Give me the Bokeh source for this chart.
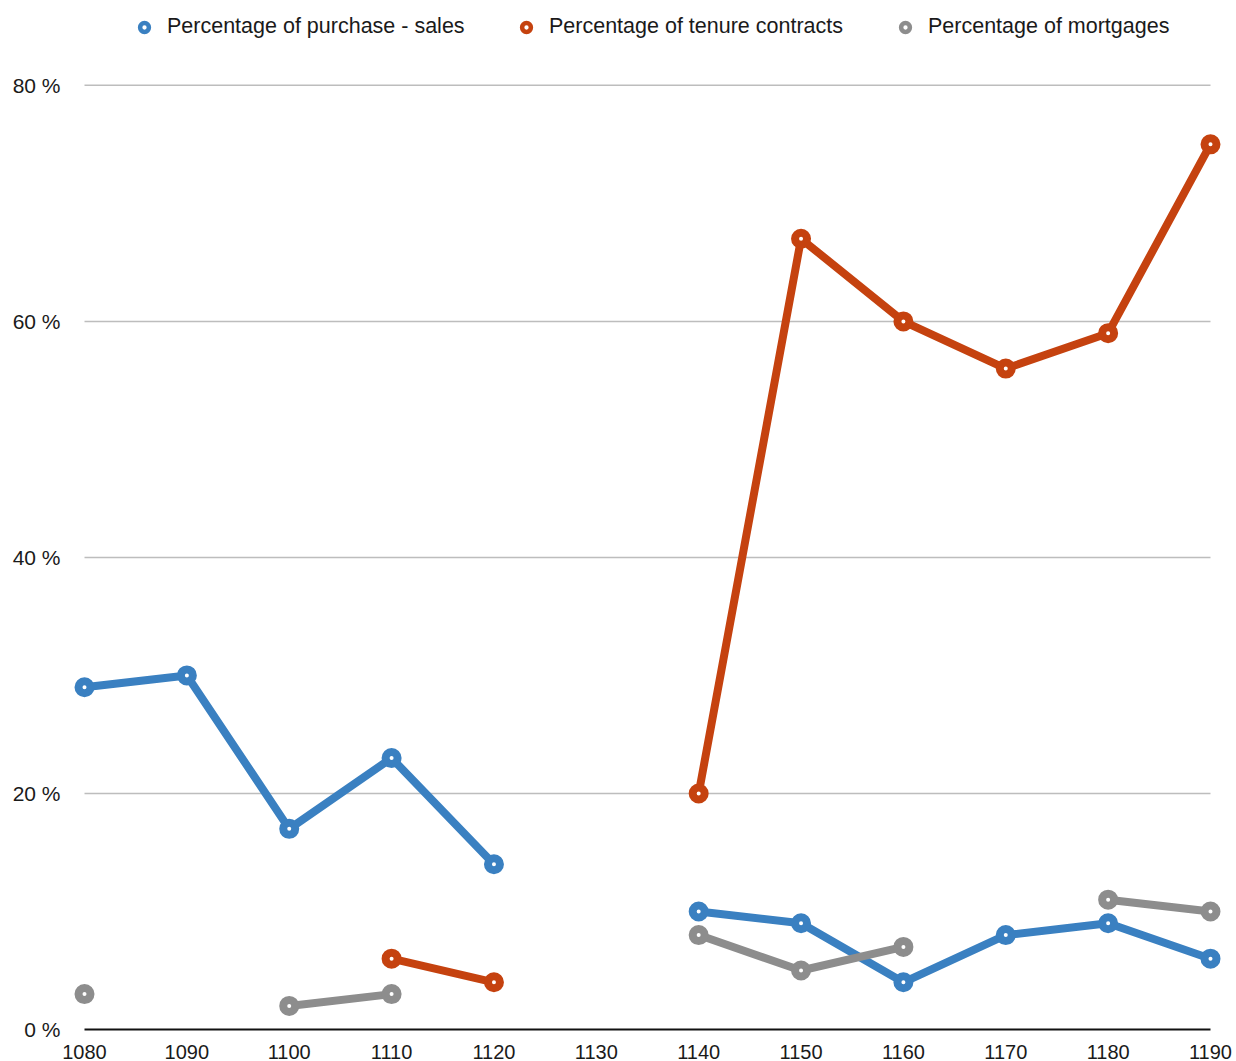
import math
from bokeh.plotting import figure
from bokeh.models import Range1d, FixedTicker, Legend, LegendItem, ColumnDataSource
from bokeh.embed import file_html
from bokeh.resources import INLINE

nan = float("nan")

years = [1080, 1090, 1100, 1110, 1120, 1130, 1140, 1150, 1160, 1170, 1180, 1190]
purchase_sales = [29, 30, 17, 23, 14, nan, 10, 9, 4, 8, 9, 6]
tenure_contracts = [nan, nan, nan, 6, 4, nan, 20, 67, 60, 56, 59, 75]
mortgages = [3, nan, 2, 3, nan, nan, 8, 5, 7, nan, 11, 10]

series_names = ["Percentage of purchase - sales", "Percentage of tenure contracts", "Percentage of mortgages"]
series_colors = ["#3a80c1", "#c5420f", "#8d8d8d"]

y_ticks = [0, 20, 40, 60, 80]
y_tick_labels = ["0 %", "20 %", "40 %", "60 %", "80 %"]
x_ticks = years

W, H = 1236, 1061
frame_left, frame_right, frame_top, frame_bottom = 69, 1225, 0, 1035
x_first_px, x_last_px = 84, 1210
y0_px, y80_px = 1031, 85

xppu = (x_last_px - x_first_px) / (years[-1] - years[0])
yppu = (y0_px - y80_px) / 80.0
x_start = years[0] - (x_first_px - frame_left) / xppu
x_end = years[-1] + (frame_right - x_last_px) / xppu
y_start = 0 - (frame_bottom - y0_px) / yppu
y_end = 80 + (y80_px - frame_top) / yppu

p = figure(width=W, height=H, output_backend="svg", toolbar_location=None,
           x_range=Range1d(x_start, x_end), y_range=Range1d(y_start, y_end),
           min_border_left=frame_left, min_border_right=W - frame_right,
           min_border_top=frame_top, min_border_bottom=H - frame_bottom)
p.outline_line_color = None
p.background_fill_color = "white"
p.border_fill_color = "white"
p.xgrid.visible = False
p.ygrid.visible = False

# gridlines limited to data span
grid_src = ColumnDataSource(dict(x0=[years[0]] * 4, x1=[years[-1]] * 4, y=y_ticks[1:]))
p.segment(x0="x0", x1="x1", y0="y", y1="y", source=grid_src, line_color="#bdbdbd", line_width=1.5)
p.segment(x0=[years[0]], x1=[years[-1]], y0=[0], y1=[0], line_color="#111111", line_width=2.2)

font = "Liberation Sans"
for ax in (p.xaxis[0], p.yaxis[0]):
    ax.axis_line_color = None
    ax.major_tick_line_color = None
    ax.minor_tick_line_color = None
    ax.major_label_text_font = font
    ax.major_label_text_font_size = "20px"
    ax.major_label_text_color = "#1a1a1a"

p.xaxis.ticker = FixedTicker(ticks=x_ticks)
p.xaxis.major_label_standoff = 5
p.yaxis.ticker = FixedTicker(ticks=y_ticks)
p.yaxis.major_label_overrides = {t: l for t, l in zip(y_ticks, y_tick_labels)}
p.yaxis.major_label_standoff = 3
p.yaxis.major_label_text_font_size = "21px"

legend_renderers = []
for vals, name, col in zip([purchase_sales, tenure_contracts, mortgages], series_names, series_colors):
    src = ColumnDataSource(dict(x=years, y=vals))
    p.line("x", "y", source=src, line_color=col, line_width=8, line_join="round", line_cap="round")
    p.scatter("x", "y", source=src, size=12, line_color=col, line_width=8, fill_color="white")
    lr = p.scatter(x=[nan], y=[nan], size=9, line_color=col, line_width=4.5, fill_color="white")
    legend_renderers.append(lr)

leg_x = [64, 446, 825]
for lx, name, r in zip(leg_x, series_names, legend_renderers):
    leg = Legend(items=[LegendItem(label=name, renderers=[r])], location=(lx, frame_bottom - 41),
                 orientation="horizontal", glyph_width=22, glyph_height=22, label_standoff=12,
                 padding=0, margin=0, border_line_color=None, background_fill_alpha=0,
                 label_text_font=font, label_text_font_size="21.5px", label_text_color="#1a1a1a",
                 label_height=22)
    p.add_layout(leg, "center")

open("out.html", "w").write(file_html(p, INLINE))
